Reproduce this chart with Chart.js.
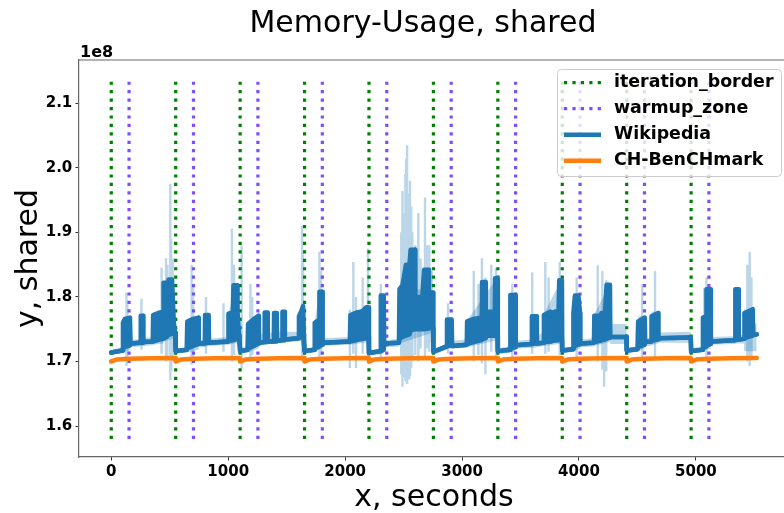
<!DOCTYPE html>
<html>
<head>
<meta charset="utf-8">
<script src="https://cdn.jsdelivr.net/npm/chart.js@4.4.1/dist/chart.umd.min.js"></script>
<style>
  html, body { margin: 0; padding: 0; background: #fff; overflow: hidden; width: 784px; height: 513px; }
  #wrap { position: absolute; left: 0; top: 0; width: 800px; height: 513px; }
</style>
</head>
<body>
<div id="wrap"><canvas id="c" width="800" height="513"></canvas></div>
<script>
// ---- text ----
const titleText = 'Memory-Usage, shared';
const xLabel = 'x, seconds';
const yLabel = 'y, shared';
const offsetLabel = '1e8';

// ---- ticks ----
const xTicks = [0, 1000, 2000, 3000, 4000, 5000];
const yTicks = [1.6, 1.7, 1.8, 1.9, 2.0, 2.1];

// ---- marker lines (seconds) and their vertical span (x 1e8) ----
const iterationBorders = [0, 551, 1102, 1653, 2204, 2755, 3306, 3857, 4408, 4959];
const warmupZones = [152, 703, 1254, 1805, 2356, 2907, 3458, 4009, 4560, 5111];
const markerSpan = [1.58, 2.139];

// ---- Wikipedia mean trace: [seconds, low, high] (x 1e8); low/high differ where the trace oscillates ----
const wikiTrace = [
  [0,1.714,1.714],[95,1.717,1.717],[100,1.720,1.760],[115,1.722,1.766],[160,1.725,1.768],[165,1.728,1.728],[250,1.729,1.729],[252,1.729,1.771],[272,1.729,1.771],[275,1.730,1.730],[355,1.731,1.731],[358,1.731,1.772],[400,1.733,1.775],[445,1.735,1.777],[447,1.736,1.822],[475,1.738,1.822],[478,1.740,1.775],[490,1.741,1.827],[520,1.743,1.827],[535,1.744,1.760],[546,1.744,1.744],
  [551,1.716,1.716],[645,1.718,1.718],[650,1.720,1.762],[700,1.724,1.766],[745,1.727,1.768],[748,1.728,1.728],[800,1.728,1.728],[802,1.728,1.772],[833,1.729,1.772],[836,1.729,1.729],[1000,1.731,1.731],[1002,1.731,1.774],[1040,1.733,1.776],[1045,1.733,1.818],[1078,1.735,1.818],[1080,1.735,1.776],[1095,1.736,1.736],
  [1102,1.716,1.716],[1165,1.718,1.718],[1170,1.720,1.758],[1220,1.724,1.766],[1260,1.728,1.771],[1263,1.729,1.729],[1310,1.730,1.730],[1312,1.730,1.776],[1335,1.730,1.776],[1338,1.731,1.731],[1390,1.731,1.731],[1392,1.731,1.775],[1415,1.731,1.775],[1418,1.732,1.732],[1462,1.733,1.733],[1464,1.733,1.777],[1482,1.733,1.777],[1485,1.734,1.734],[1600,1.736,1.736],[1605,1.738,1.770],[1625,1.739,1.778],[1640,1.740,1.786],[1648,1.740,1.786],
  [1653,1.716,1.716],[1735,1.718,1.718],[1740,1.720,1.760],[1778,1.723,1.765],[1780,1.724,1.808],[1805,1.726,1.808],[1808,1.729,1.729],[2040,1.731,1.731],[2045,1.731,1.772],[2100,1.733,1.776],[2150,1.735,1.778],[2180,1.736,1.784],[2200,1.737,1.784],
  [2204,1.713,1.713],[2300,1.716,1.716],[2305,1.716,1.802],[2330,1.718,1.802],[2334,1.728,1.728],[2460,1.729,1.729],[2465,1.735,1.812],[2490,1.738,1.818],[2520,1.740,1.850],[2550,1.742,1.850],[2560,1.748,1.873],[2598,1.750,1.873],[2601,1.750,1.760],[2630,1.750,1.765],[2632,1.750,1.800],[2660,1.750,1.800],[2675,1.750,1.842],[2711,1.751,1.842],[2717,1.751,1.807],[2752,1.752,1.807],
  [2755,1.715,1.715],[2865,1.723,1.723],[2871,1.724,1.765],[2911,1.725,1.765],[2915,1.724,1.724],[3040,1.726,1.726],[3043,1.727,1.762],[3100,1.730,1.766],[3168,1.733,1.768],[3171,1.734,1.823],[3200,1.736,1.823],[3203,1.740,1.752],[3226,1.740,1.756],[3228,1.740,1.777],[3262,1.740,1.777],[3266,1.740,1.752],[3279,1.740,1.760],[3282,1.740,1.829],[3303,1.740,1.829],
  [3306,1.716,1.716],[3410,1.718,1.718],[3413,1.720,1.803],[3456,1.722,1.803],[3459,1.725,1.725],[3595,1.727,1.727],[3597,1.727,1.770],[3637,1.728,1.770],[3640,1.728,1.728],[3697,1.729,1.729],[3700,1.730,1.772],[3754,1.731,1.777],[3758,1.731,1.731],[3782,1.732,1.776],[3825,1.733,1.779],[3831,1.734,1.826],[3854,1.735,1.826],
  [3857,1.717,1.717],[3950,1.719,1.719],[3952,1.722,1.775],[3965,1.724,1.802],[3995,1.726,1.802],[4009,1.727,1.775],[4012,1.728,1.728],[4128,1.729,1.729],[4131,1.730,1.771],[4188,1.732,1.771],[4191,1.733,1.775],[4222,1.734,1.775],[4236,1.735,1.819],[4265,1.737,1.819],[4268,1.738,1.738],[4405,1.738,1.738],
  [4408,1.717,1.717],[4500,1.719,1.719],[4506,1.722,1.762],[4563,1.726,1.768],[4566,1.730,1.730],[4617,1.731,1.731],[4620,1.732,1.770],[4676,1.734,1.775],[4680,1.736,1.736],[4956,1.737,1.737],
  [4959,1.716,1.716],[5058,1.718,1.718],[5060,1.721,1.768],[5088,1.723,1.770],[5090,1.724,1.812],[5125,1.727,1.812],[5128,1.731,1.731],[5335,1.733,1.733],[5337,1.733,1.812],[5364,1.734,1.812],[5367,1.734,1.734],[5412,1.735,1.735],[5415,1.736,1.775],[5486,1.740,1.781],[5490,1.741,1.741],[5520,1.742,1.742]
];

// ---- Wikipedia spread band: [seconds, lower, upper] (x 1e8) ----
const wikiBand = [
  [0,1.711,1.717],[95,1.713,1.722],[100,1.714,1.765],[160,1.718,1.770],[165,1.722,1.733],[250,1.723,1.735],[252,1.724,1.771],[272,1.724,1.771],[276,1.724,1.736],[355,1.725,1.738],[360,1.726,1.776],[445,1.728,1.778],[447,1.730,1.822],[520,1.735,1.827],[535,1.738,1.760],[546,1.738,1.750],
  [551,1.712,1.720],[645,1.714,1.722],[650,1.714,1.765],[745,1.718,1.770],[748,1.722,1.733],[800,1.722,1.734],[802,1.723,1.772],[833,1.724,1.772],[836,1.724,1.735],[1000,1.726,1.738],[1002,1.726,1.776],[1078,1.729,1.820],[1095,1.730,1.742],
  [1102,1.712,1.720],[1165,1.714,1.724],[1170,1.714,1.760],[1260,1.720,1.773],[1263,1.725,1.742],[1310,1.726,1.744],[1312,1.726,1.778],[1335,1.726,1.778],[1338,1.728,1.745],[1390,1.728,1.745],[1392,1.728,1.777],[1415,1.728,1.777],[1418,1.729,1.746],[1462,1.729,1.746],[1464,1.729,1.779],[1482,1.729,1.779],[1485,1.730,1.746],[1600,1.731,1.746],[1605,1.732,1.772],[1648,1.734,1.788],
  [1653,1.712,1.720],[1735,1.714,1.722],[1740,1.715,1.762],[1780,1.718,1.810],[1805,1.720,1.810],[1808,1.724,1.736],[2040,1.726,1.738],[2045,1.726,1.774],[2200,1.730,1.786],
  [2204,1.709,1.717],[2300,1.711,1.720],[2305,1.711,1.804],[2330,1.713,1.804],[2334,1.722,1.733],[2460,1.723,1.735],[2465,1.728,1.814],[2752,1.745,1.810],
  [2755,1.710,1.718],[2865,1.718,1.728],[2871,1.719,1.767],[2911,1.720,1.767],[2915,1.720,1.732],[3040,1.721,1.734],[3043,1.722,1.764],[3303,1.733,1.830],
  [3306,1.711,1.720],[3410,1.713,1.724],[3413,1.714,1.805],[3456,1.716,1.805],[3459,1.720,1.732],[3595,1.721,1.734],[3597,1.721,1.772],[3637,1.722,1.772],[3640,1.722,1.740],[3697,1.724,1.745],[3700,1.724,1.774],[3854,1.728,1.828],
  [3857,1.713,1.721],[3950,1.715,1.723],[3952,1.716,1.804],[4009,1.720,1.777],[4012,1.722,1.734],[4128,1.723,1.736],[4131,1.724,1.773],[4265,1.730,1.821],[4268,1.727,1.758],[4405,1.727,1.758],
  [4408,1.713,1.721],[4500,1.715,1.723],[4506,1.716,1.770],[4563,1.720,1.770],[4566,1.724,1.736],[4617,1.724,1.736],[4620,1.725,1.777],[4676,1.728,1.777],[4680,1.729,1.745],[4956,1.729,1.746],
  [4959,1.713,1.721],[5058,1.715,1.723],[5060,1.716,1.814],[5125,1.720,1.814],[5128,1.726,1.738],[5335,1.727,1.739],[5337,1.728,1.814],[5364,1.728,1.814],[5367,1.728,1.740],[5412,1.728,1.742],[5415,1.716,1.783],[5490,1.716,1.759],[5520,1.716,1.759]
];

// ---- short-lived excursions of the Wikipedia spread: [seconds, lower, upper] (x 1e8) ----
const wikiSpikes = [
  [130,1.693,1.807],[137,1.700,1.790],[258,1.718,1.797],[430,1.712,1.845],[468,1.700,1.860],[480,1.705,1.850],[505,1.671,1.975],[512,1.685,1.890],[525,1.700,1.860],
  [687,1.695,1.850],[700,1.705,1.820],[810,1.712,1.800],[960,1.715,1.790],[1032,1.700,1.906],[1050,1.710,1.850],
  [1115,1.690,1.880],[1190,1.700,1.820],[1205,1.710,1.800],[1632,1.700,1.910],[1640,1.710,1.870],
  [1780,1.700,1.870],[1795,1.710,1.840],[2040,1.690,1.780],[2070,1.712,1.854],[2093,1.690,1.800],[2150,1.712,1.830],[2195,1.700,1.875],
  [2305,1.705,1.820],[2480,1.680,1.900],[2490,1.661,1.964],[2498,1.675,1.930],[2505,1.690,1.880],[2515,1.670,1.990],[2522,1.668,2.014],[2530,1.665,2.035],[2540,1.680,1.920],[2548,1.672,1.960],[2555,1.677,1.980],[2565,1.690,1.940],[2575,1.700,1.900],[2600,1.710,1.880],[2626,1.700,1.930],[2645,1.720,1.860],[2683,1.705,1.954],[2700,1.720,1.880],[2720,1.715,1.880],[2740,1.730,1.840],
  [2880,1.712,1.790],[3100,1.700,1.840],[3140,1.710,1.820],[3170,1.697,1.860],[3200,1.680,1.830],[3250,1.715,1.850],[3290,1.705,1.845],
  [3430,1.705,1.820],[3600,1.712,1.838],[3712,1.712,1.854],[3740,1.715,1.830],[3835,1.710,1.854],
  [3980,1.700,1.830],[4160,1.700,1.849],[4200,1.687,1.840],[4215,1.661,1.800],[4233,1.685,1.826],
  [4540,1.700,1.820],[4650,1.705,1.840],
  [5090,1.700,1.830],[5440,1.700,1.850],[5460,1.693,1.870],[5475,1.705,1.830]
];

// ---- CH-BenCHmark: [seconds, value] (x 1e8) ----
const chBenchmark = [
  [0,1.7000],[45,1.7030],[150,1.7042],[350,1.7050],[548,1.7053],
  [551,1.6998],[596,1.7031],[700,1.7043],[900,1.7050],[1099,1.7053],
  [1102,1.6998],[1147,1.7030],[1250,1.7042],[1450,1.7050],[1650,1.7053],
  [1653,1.6998],[1698,1.7031],[1800,1.7043],[2000,1.7050],[2201,1.7053],
  [2204,1.6997],[2249,1.7030],[2350,1.7042],[2550,1.7050],[2752,1.7053],
  [2755,1.6998],[2800,1.7031],[2900,1.7043],[3100,1.7050],[3303,1.7053],
  [3306,1.6998],[3351,1.7030],[3450,1.7042],[3650,1.7050],[3854,1.7053],
  [3857,1.6997],[3902,1.7031],[4000,1.7043],[4200,1.7050],[4405,1.7053],
  [4408,1.6998],[4453,1.7030],[4550,1.7042],[4750,1.7050],[4956,1.7053],
  [4959,1.6998],[5004,1.7031],[5100,1.7043],[5300,1.7050],[5520,1.7053]
];

// ---- colours ----
const GREEN = '#008000';
const PURPLE = '#7f4cff';
const BLUE = '#1f77b4';
const ORANGE = '#ff7f0e';
const BAND = 'rgba(31,119,180,0.3)';

const col = (rows, i) => rows.map(r => ({ x: r[0], y: r[i] }));
function segmentPoints(xs, lows, highs) {
  const out = [];
  xs.forEach((x, i) => { out.push({ x, y: lows[i] }, { x, y: highs[i] }, { x, y: null }); });
  return out;
}
const markerPoints = xs => segmentPoints(xs, xs.map(() => markerSpan[0]), xs.map(() => markerSpan[1]));

Chart.defaults.font.family = '"DejaVu Sans", sans-serif';
Chart.defaults.color = '#000';

const DOT = [3.2, 5.23];

const datasets = [
  { label: 'iteration_border', data: markerPoints(iterationBorders), borderColor: GREEN, borderWidth: 3.2,
    borderDash: DOT, borderCapStyle: 'butt', pointRadius: 0, fill: false, order: 7, spanGaps: false },
  { label: 'warmup_zone', data: markerPoints(warmupZones), borderColor: PURPLE, borderWidth: 3.2,
    borderDash: DOT, borderCapStyle: 'butt', pointRadius: 0, fill: false, order: 6, spanGaps: false },
  { label: 'band_low', data: col(wikiBand, 1), borderColor: 'rgba(0,0,0,0)', borderWidth: 0,
    pointRadius: 0, fill: false, order: 5 },
  { label: 'band_high', data: col(wikiBand, 2), borderColor: 'rgba(0,0,0,0)', borderWidth: 0,
    pointRadius: 0, fill: { target: 2 }, backgroundColor: BAND, order: 4 },
  { label: 'band_spikes', data: segmentPoints(wikiSpikes.map(r => r[0]), wikiSpikes.map(r => r[1]), wikiSpikes.map(r => r[2])),
    borderColor: BAND, borderWidth: 2.4, borderCapStyle: 'butt', pointRadius: 0, fill: false, order: 3, spanGaps: false },
  { label: 'wiki_low', data: col(wikiTrace, 1), borderColor: BLUE, borderWidth: 4.5,
    borderJoinStyle: 'round', borderCapStyle: 'round', pointRadius: 0, fill: false, order: 2 },
  { label: 'Wikipedia', data: col(wikiTrace, 2), borderColor: BLUE, borderWidth: 4.5,
    borderJoinStyle: 'round', borderCapStyle: 'round', pointRadius: 0, fill: { target: 5 }, backgroundColor: BLUE, order: 1 },
  { label: 'CH-BenCHmark', data: col(chBenchmark, 1), borderColor: ORANGE, borderWidth: 4.5,
    borderJoinStyle: 'round', borderCapStyle: 'round', pointRadius: 0, fill: false, order: 0 }
];

const legendRows = [
  { ds: 0, dash: DOT, width: 3.2 },
  { ds: 1, dash: DOT, width: 3.2 },
  { ds: 6, dash: [], width: 4.5 },
  { ds: 7, dash: [], width: 4.5 }
];

// axes frame, titles, offset text and legend box
const decor = {
  id: 'decor',
  afterDraw(chart) {
    const { ctx, chartArea: a } = chart;
    ctx.save();
    ctx.strokeStyle = '#666';
    ctx.lineWidth = 1.2;
    ctx.beginPath();
    ctx.moveTo(a.left, a.top); ctx.lineTo(a.right, a.top); ctx.lineTo(a.right, a.bottom);
    ctx.stroke();

    ctx.fillStyle = '#000';
    ctx.textAlign = 'center';
    ctx.textBaseline = 'alphabetic';
    ctx.font = '30px "DejaVu Sans"';
    ctx.fillText(titleText, 423, 32);
    ctx.fillText(xLabel, (a.left + a.right) / 2, 506);

    ctx.save();
    ctx.translate(37, (a.top + a.bottom) / 2);
    ctx.rotate(-Math.PI / 2);
    ctx.fillText(yLabel, 0, 0);
    ctx.restore();

    ctx.font = 'bold 16px "DejaVu Sans"';
    ctx.textAlign = 'left';
    ctx.fillText(offsetLabel, a.left + 1, 57);

    // legend
    const bx = 557.5, by = 69.5, bw = 224, bh = 107, r = 4;
    ctx.beginPath();
    ctx.moveTo(bx + r, by);
    ctx.arcTo(bx + bw, by, bx + bw, by + bh, r);
    ctx.arcTo(bx + bw, by + bh, bx, by + bh, r);
    ctx.arcTo(bx, by + bh, bx, by, r);
    ctx.arcTo(bx, by, bx + bw, by, r);
    ctx.closePath();
    ctx.fillStyle = 'rgba(255,255,255,0.8)';
    ctx.fill();
    ctx.strokeStyle = '#cccccc';
    ctx.lineWidth = 1;
    ctx.stroke();

    ctx.font = 'bold 17.4px "DejaVu Sans"';
    ctx.textBaseline = 'middle';
    legendRows.forEach((row, i) => {
      const ds = chart.data.datasets[row.ds];
      const y = 82.7 + i * 26;
      ctx.beginPath();
      ctx.setLineDash(row.dash);
      ctx.lineCap = 'butt';
      ctx.strokeStyle = ds.borderColor;
      ctx.lineWidth = row.width;
      ctx.moveTo(564, y); ctx.lineTo(601, y);
      ctx.stroke();
      ctx.setLineDash([]);
      ctx.fillStyle = '#000';
      ctx.fillText(ds.label, 614, y);
    });
    ctx.restore();
  }
};

const tickFont = { family: '"DejaVu Sans"', weight: 'bold', size: 15 };

new Chart(document.getElementById('c'), {
  type: 'line',
  data: { datasets },
  options: {
    responsive: false,
    devicePixelRatio: 1,
    animation: false,
    layout: { padding: { top: 60, right: 11, left: 0, bottom: 0 } },
    plugins: { legend: { display: false }, tooltip: { enabled: false }, title: { display: false } },
    elements: { line: { tension: 0 } },
    scales: {
      x: {
        type: 'linear', min: -276, max: 5796,
        afterBuildTicks: s => { s.ticks = xTicks.map(v => ({ value: v })); },
        afterFit: s => { s.height = 56; },
        ticks: { font: tickFont, color: '#000', padding: 3, maxRotation: 0, autoSkip: false,
                 callback: v => String(v) },
        grid: { display: true, drawOnChartArea: false, drawTicks: true, tickLength: 3.5, tickColor: '#333', tickWidth: 1 },
        border: { display: true, color: '#666', width: 1.2 }
      },
      y: {
        type: 'linear', min: 1.552, max: 2.167,
        afterBuildTicks: s => { s.ticks = yTicks.map(v => ({ value: v })); },
        afterFit: s => { s.width = 79; },
        ticks: { font: tickFont, color: '#000', padding: 3.2, autoSkip: false,
                 callback: v => v.toFixed(1) },
        grid: { display: true, drawOnChartArea: false, drawTicks: true, tickLength: 3.5, tickColor: '#333', tickWidth: 1 },
        border: { display: true, color: '#666', width: 1.2 }
      }
    }
  },
  plugins: [decor]
});
</script>
</body>
</html>
